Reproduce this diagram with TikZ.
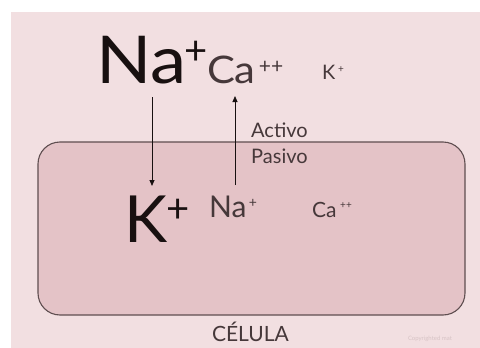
\documentclass[tikz,border=0pt]{standalone}
\usepackage{fontspec}
\setmainfont{Lato}
\usetikzlibrary{arrows.meta}
\definecolor{bgpink}{RGB}{242,223,225}
\definecolor{cellpink}{RGB}{228,195,199}
\definecolor{cellline}{RGB}{95,78,80}
\definecolor{inkdark}{RGB}{24,16,16}
\definecolor{inkgray}{RGB}{70,56,58}
\definecolor{wmark}{RGB}{215,195,197}
\begin{document}
\begin{tikzpicture}[x=1pt,y=-1pt,
  ion/.style={anchor=base west,inner sep=0pt,outer sep=0pt},
  sign/.style={anchor=center,inner sep=0pt,outer sep=0pt},
  flow/.style={draw=inkdark,line width=0.8pt,-{Triangle[length=6pt,width=5pt]}},
  lbl/.style={anchor=base west,inner sep=0pt,text=inkgray}]
\useasboundingbox (0,0) rectangle (480,348);
\fill[white] (0,0) rectangle (480,348);
\fill[bgpink] (11,12) rectangle (480,348);
\draw[fill=cellpink,draw=cellline,line width=1.1pt,rounded corners=22pt] (38,142) rectangle (465,315);
% outside
\node[ion,text=inkdark,font=\fontsize{66}{66}\selectfont] (na1) at (96,83) {\scalebox{1.1}[1]{Na}};
\node[sign,text=inkdark,font=\fontsize{40}{40}\selectfont] (na1p) at (196,53) {+};
\node[ion,text=inkgray,font=\fontsize{38}{38}\selectfont] (ca1) at (207,83) {\scalebox{1.1}[1]{Ca}};
\node[sign,text=inkgray,font=\fontsize{21}{21}\selectfont] (ca1p) at (271,67) {++};
\node[ion,text=inkgray,font=\fontsize{20}{20}\selectfont] (k1) at (322,79) {K};
\node[sign,text=inkgray,font=\fontsize{10}{10}\selectfont] (k1p) at (341,70) {+};
% inside
\node[ion,text=inkdark,font=\fontsize{65}{65}\selectfont] (k2) at (124,242) {K};
\node[sign,text=inkdark,font=\fontsize{40}{40}\selectfont] (k2p) at (178,211) {+};
\node[ion,text=inkgray,font=\fontsize{30}{30}\selectfont] (na2) at (209,217) {Na};
\node[sign,text=inkgray,font=\fontsize{14}{14}\selectfont] (na2p) at (253,203) {+};
\node[ion,text=inkgray,font=\fontsize{21}{21}\selectfont] (ca2) at (312,217) {Ca};
\node[sign,text=inkgray,font=\fontsize{10}{10}\selectfont] (ca2p) at (346,206) {++};
% labels
\node[lbl,font=\fontsize{20}{20}\selectfont] (act) at (251,137) {Activo};
\node[lbl,font=\fontsize{20}{20}\selectfont] (pas) at (251,163) {Pasivo};
\node[ion,text=inkgray,font=\fontsize{21}{21}\selectfont] (cel) at (212,341) {CÉLULA};
\node[ion,text=wmark,font=\fontsize{6}{6}\selectfont] (wm) at (408,340) {Copyrighted mat};
% arrows
\coordinate (dsrc) at (152,97);
\coordinate (ddst) at (152,186);
\coordinate (usrc) at (235,185);
\coordinate (udst) at (235,96);
\draw[flow] (dsrc) -- (ddst);
\draw[flow] (usrc) -- (udst);
\end{tikzpicture}
\end{document}
